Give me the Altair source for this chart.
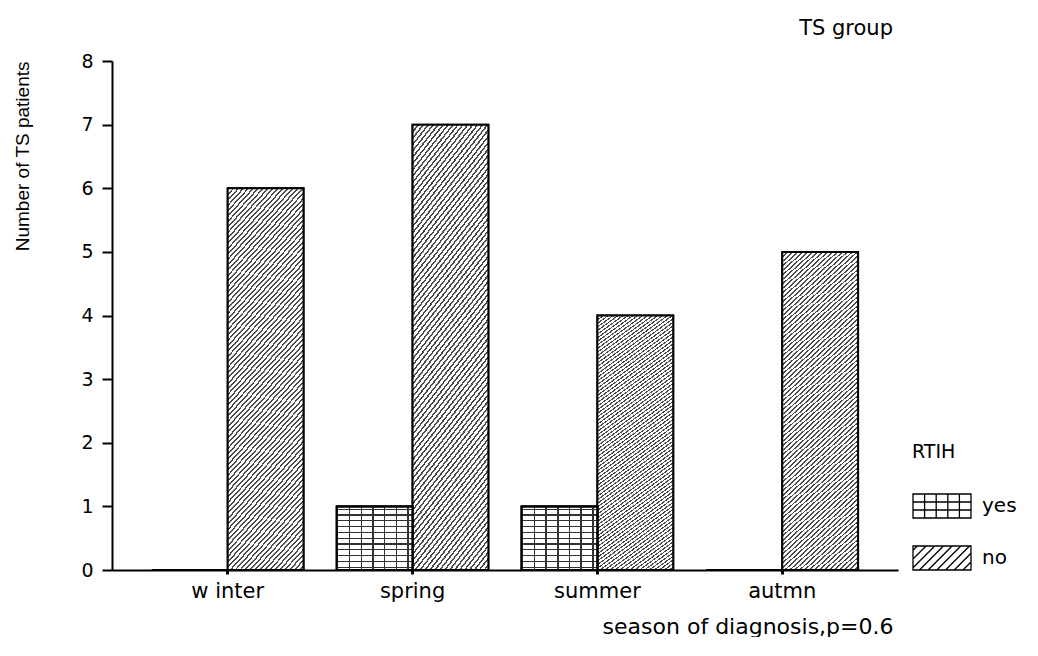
import altair as alt
import pandas as pd

# ---- data ----
seasons = ["w inter", "spring", "summer", "autmn"]
rtih_levels = ["yes", "no"]
yes_counts = [0, 1, 1, 0]
no_counts = [6, 7, 4, 5]

rows = []
for s, yv, nv in zip(seasons, yes_counts, no_counts):
    rows.append({"season": s, "RTIH": "yes", "count": yv})
    rows.append({"season": s, "RTIH": "no", "count": nv})
df = pd.DataFrame(rows)

# ---- hatch styles (gradients with hard stops) ----
def stripe_stops(intervals, line, gap):
    stops = [{"offset": 0, "color": gap}]
    for a, b in intervals:
        a = max(0.0, min(1.0, a))
        b = max(0.0, min(1.0, b))
        stops += [{"offset": a, "color": gap}, {"offset": a, "color": line},
                  {"offset": b, "color": line}, {"offset": b, "color": gap}]
    stops.append({"offset": 1, "color": gap})
    return stops

N_DIAG = 86
diag_fill = {
    "gradient": "linear", "x1": 0, "y1": 0, "x2": 0.252, "y2": 1.162,
    "stops": stripe_stops([(i / N_DIAG, (i + 0.38) / N_DIAG) for i in range(N_DIAG)],
                          "#4a4a4a", "white"),
}
N_H = 11
hline_fill = {
    "gradient": "linear", "x1": 0, "y1": 0, "x2": 0, "y2": 1,
    "stops": stripe_stops([((k + 0.5) / N_H - 0.009, (k + 0.5) / N_H + 0.009) for k in range(N_H)],
                          "#333333", "white"),
}
vline_fill = {
    "gradient": "linear", "x1": 0, "y1": 0, "x2": 1, "y2": 0,
    "stops": stripe_stops([(0.17 + 0.154 * k - 0.01, 0.17 + 0.154 * k + 0.01) for k in range(6)],
                          "#333333", "rgba(0,0,0,0)"),
}

# legend symbol shapes (unit square scaled by symbolSize)
HH = 0.414
rect = f"M-1,-{HH}L1,-{HH}L1,{HH}L-1,{HH}Z"
yes_path = rect
for xx in [-0.6, -0.2, 0.2, 0.6]:
    yes_path += f"M{xx},-{HH}L{xx},{HH}"
for yy in [-0.138, 0.138]:
    yes_path += f"M-1,{yy}L1,{yy}"
no_path = rect
x0 = -1 - 2 * HH + 0.15
while x0 < 1:
    s0 = max(0.0, -1 - x0)
    s1 = min(2 * HH, 1 - x0)
    if s1 > s0:
        no_path += f"M{x0 + s0:.3f},{HH - s0:.3f}L{x0 + s1:.3f},{HH - s1:.3f}"
    x0 += 0.3
shape_expr = f"datum.value === 'yes' ? '{yes_path}' : '{no_path}'"

FONT = "DejaVu Sans"

x_enc = alt.X(
    "season:N", sort=seasons,
    scale=alt.Scale(paddingInner=0.18, paddingOuter=0.216),
    axis=alt.Axis(
        title="season of diagnosis,p=0.6", labelAngle=0, labelFont=FONT, labelFontSize=21,
        labelPadding=6, tickSize=4, tickWidth=3, ticks=True, tickColor="black", grid=False,
        titleFont=FONT, titleFontSize=22, titleFontWeight="normal",
        titleX=781, titleY=63, titleAlign="right", titleBaseline="alphabetic",
    ),
)
xoff_enc = alt.XOffset("RTIH:N", sort=rtih_levels,
                       scale=alt.Scale(domain=rtih_levels, paddingInner=0, paddingOuter=0))
y_enc = alt.Y(
    "count:Q",
    scale=alt.Scale(domain=[0, 8], nice=False),
    axis=alt.Axis(
        title="Number of TS patients", values=list(range(9)), format="d", grid=False,
        labelFont=FONT, labelFontSize=19, labelPadding=9, tickSize=10, tickWidth=2,
        titleFont="Liberation Sans", titleFontSize=19, titleFontWeight="normal",
        titleAngle=270, titleAlign="right", titleBaseline="alphabetic",
        titleX=-84, titleY=0,
    ),
)

base = alt.Chart(df).mark_bar(stroke="black", strokeWidth=2).encode(
    x=x_enc, xOffset=xoff_enc, y=y_enc,
    color=alt.Color(
        "RTIH:N", sort=rtih_levels,
        scale=alt.Scale(domain=rtih_levels, range=["white", "white"]),
        legend=alt.Legend(
            title="RTIH", orient="none", legendX=800, legendY=382,
            symbolType={"expr": shape_expr}, symbolSize=3364,
            symbolStrokeColor="black", symbolStrokeWidth=1.3, symbolFillColor="white",
            labelFont=FONT, labelFontSize=20, labelColor="black", labelOffset=10,
            titleFont=FONT, titleFontSize=19, titleFontWeight="normal", titleColor="black",
            titlePadding=14, rowPadding=7,
        ),
    ),
)

no_layer = alt.Chart(df).transform_filter(alt.datum.RTIH == "no").mark_bar(
    fill=diag_fill, stroke="black", strokeWidth=2
).encode(x=x_enc, xOffset=xoff_enc, y=y_enc)

yes_h = alt.Chart(df).transform_filter(alt.datum.RTIH == "yes").mark_bar(
    fill=hline_fill, stroke="black", strokeWidth=2
).encode(x=x_enc, xOffset=xoff_enc, y=y_enc)

yes_v = alt.Chart(df).transform_filter(alt.datum.RTIH == "yes").mark_bar(
    fill=vline_fill, stroke="black", strokeWidth=2
).encode(x=x_enc, xOffset=xoff_enc, y=y_enc)

chart = alt.layer(base, no_layer, yes_h, yes_v).properties(
    width=786, height=509, background="white",
    padding={"left": 5, "top": 10, "right": 0, "bottom": 0},
    title=alt.Title("TS group", anchor="end", frame="group", font=FONT, fontSize=21,
                    fontWeight="normal", color="black", offset=-4, baseline="alphabetic",
                    dx=-5),
).configure_view(stroke="transparent", strokeWidth=0).configure_axis(
    domainColor="black", domainWidth=2, tickColor="black", labelColor="black",
    titleColor="black", grid=False,
)

chart.save("out.html", embed_options={"renderer": "svg", "actions": False})
